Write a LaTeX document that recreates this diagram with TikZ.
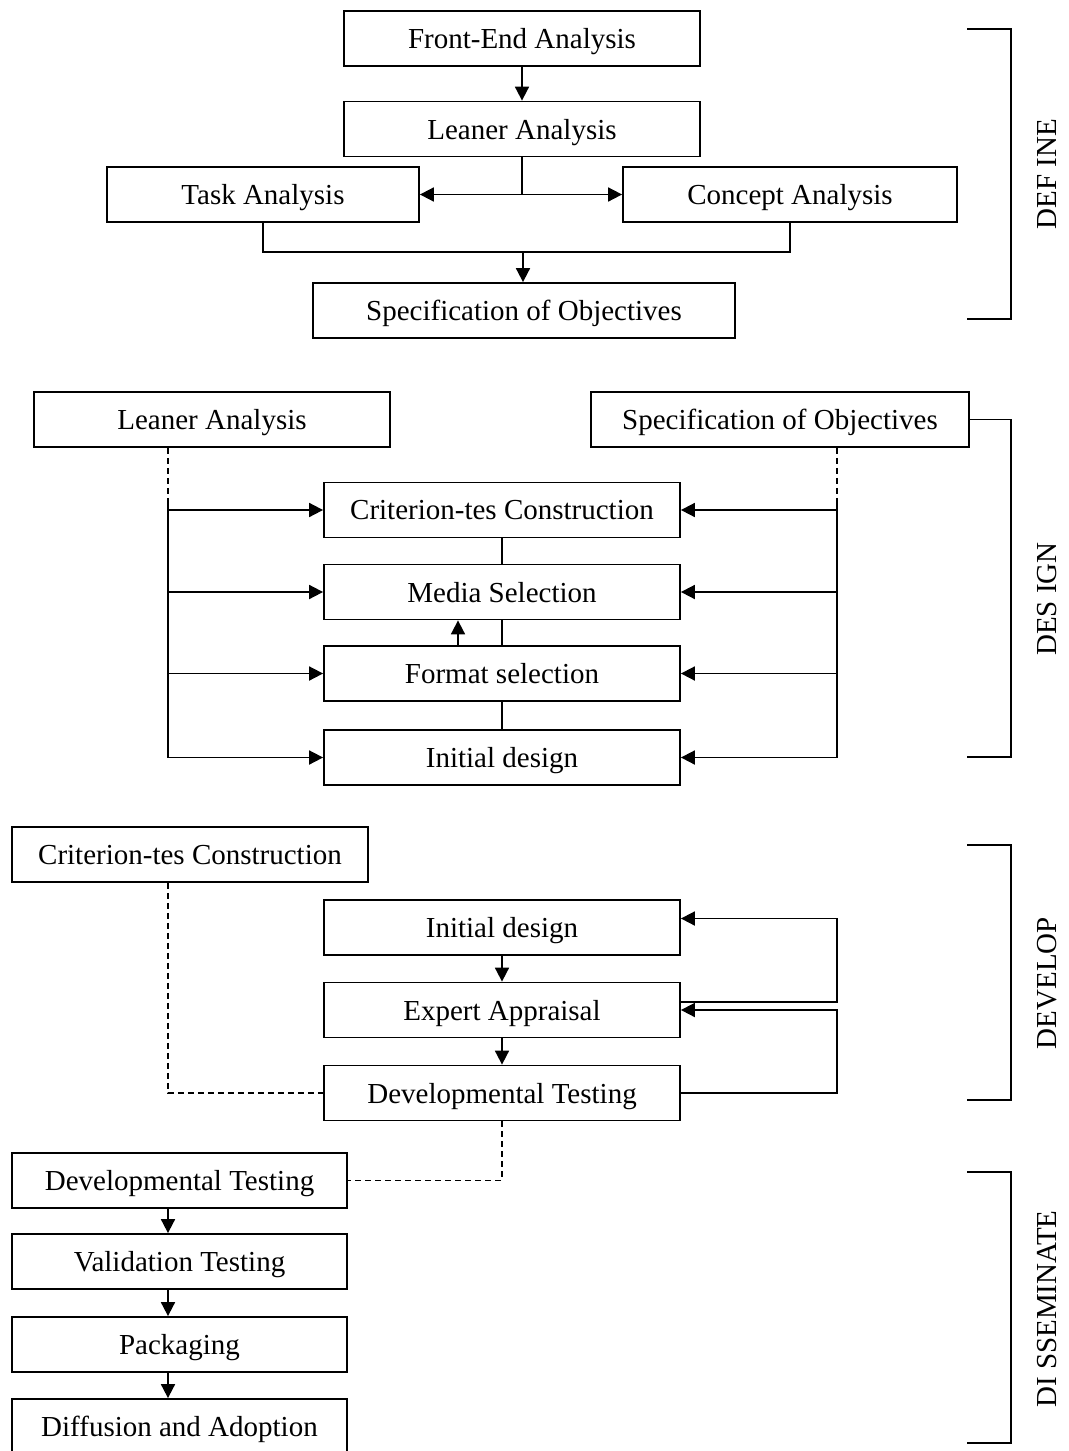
\documentclass[tikz,border=0pt]{standalone}
\usepackage{fontspec}
\setmainfont{Liberation Serif}
\usepackage{tikz}
\usetikzlibrary{positioning, calc, arrows.meta}

\begin{document}
\begin{tikzpicture}[>={Triangle[length=7pt,width=7pt]}, x=0.5pt, y=-0.5pt, line width=0.9pt,
    box/.style={draw, rectangle, inner sep=0pt, minimum height=27.5pt, text depth=0pt, font=\fontsize{14.5}{17}\selectfont},
    phase/.style={rotate=90, inner sep=0pt, font=\fontsize{14.5}{17}\selectfont},
    dotline/.style={dash pattern=on 3pt off 2pt}] % Arrow tip style
    \useasboundingbox (0,0) rectangle (1069,1451);

    % Define stage
    \node[box, minimum width=178pt] (FEA) at (522,38.5) {Front-End Analysis};
    \node[box, minimum width=178pt] (LA1) at (522,129) {Leaner Analysis};
    \node[box, minimum width=156pt] (TA) at (263,194.5) {Task Analysis};
    \node[box, minimum width=167pt] (CA) at (790,194.5) {Concept Analysis};
    \node[box, minimum width=211pt] (SO1) at (524,310.5) {Specification of Objectives};

    \draw[->] (FEA) -- (LA1);
    \draw (LA1.south) -- (LA1.south |- TA.east) coordinate (J1);
    \draw[->] (J1) -- (TA.east);
    \draw[->] (J1) -- (CA.west);
    \coordinate (J2) at (523,252);
    \draw (TA.south) |- (J2) -| (CA.south);
    \draw[->] (J2) -- (J2 |- SO1.north);

    \draw (967,29) -- (1011,29) -- (1011,319) -- (967,319);
    \node[phase] (Define) at (1047,174) {DEF INE};

    % Design stage
    \node[box, minimum width=178pt] (LA2) at (212,419.5) {Leaner Analysis};
    \node[box, minimum width=189pt] (SO2) at (780,419.5) {Specification of Objectives};
    \node[box, minimum width=178pt] (CTC1) at (502,510) {Criterion-tes Construction};
    \node[box, minimum width=178pt] (MS) at (502,592) {Media Selection};
    \node[box, minimum width=178pt] (FS) at (502,673.5) {Format selection};
    \node[box, minimum width=178pt] (ID1) at (502,757.5) {Initial design};

    \coordinate (L1) at (168,500);
    \coordinate (R1) at (837,500);
    \draw[dotline] (L1 |- LA2.south) -- (L1);
    \draw[dotline] (R1 |- SO2.south) -- (R1);
    \draw (L1) -- (L1 |- ID1.west);
    \draw (R1) -- (R1 |- ID1.east);
    \draw[->] (L1 |- CTC1.west) -- (CTC1.west);
    \draw[->] (L1 |- MS.west) -- (MS.west);
    \draw[->] (L1 |- FS.west) -- (FS.west);
    \draw[->] (L1 |- ID1.west) -- (ID1.west);
    \draw[->] (R1 |- CTC1.east) -- (CTC1.east);
    \draw[->] (R1 |- MS.east) -- (MS.east);
    \draw[->] (R1 |- FS.east) -- (FS.east);
    \draw[->] (R1 |- ID1.east) -- (ID1.east);
    \draw (CTC1) -- (MS);
    \draw (MS) -- (FS);
    \draw (FS) -- (ID1);
    \draw[->] ([xshift=-22pt]FS.north) -- ([xshift=-22pt]MS.south);

    \draw (SO2.east) -- (1011,419.5) -- (1011,757) -- (967,757);
    \node[phase] (Design) at (1047,599) {DES IGN};

    % Develop stage
    \node[box, minimum width=178pt] (CTC2) at (190,854.5) {Criterion-tes Construction};
    \node[box, minimum width=178pt] (ID2) at (502,927.5) {Initial design};
    \node[box, minimum width=178pt] (EA) at (502,1010) {Expert Appraisal};
    \node[box, minimum width=178pt] (DT1) at (502,1093) {Developmental Testing};

    \draw[dotline] ([xshift=-11pt]CTC2.south) |- (DT1.west);
    \draw[->] (ID2) -- (EA);
    \draw[->] (EA) -- (DT1);
    \draw[->] ([yshift=4pt]EA.east) -- ++(156,0) |- ([yshift=4.5pt]ID2.east);
    \draw[->] (DT1.east) -- ++(156,0) |- (EA.east);

    \draw (967,845) -- (1011,845) -- (1011,1100) -- (967,1100);
    \node[phase] (Develop) at (1047,983) {DEVELOP};

    % Disseminate stage
    \node[box, minimum width=167.5pt] (DT2) at (179.5,1180.5) {Developmental Testing};
    \node[box, minimum width=167.5pt] (VT) at (179.5,1261.5) {Validation Testing};
    \node[box, minimum width=167.5pt] (PK) at (179.5,1344.5) {Packaging};
    \node[box, minimum width=167.5pt] (DA) at (179.5,1426.5) {Diffusion and Adoption};

    \draw[dotline] (DT1.south) |- (DT2.east);
    \draw[->] ([xshift=-5.75pt]DT2.south) -- ([xshift=-5.75pt]VT.north);
    \draw[->] ([xshift=-5.75pt]VT.south) -- ([xshift=-5.75pt]PK.north);
    \draw[->] ([xshift=-5.75pt]PK.south) -- ([xshift=-5.75pt]DA.north);

    \draw (967,1172) -- (1011,1172) -- (1011,1443) -- (967,1443);
    \node[phase] (Disseminate) at (1047,1309) {DI SSEMINATE};
\end{tikzpicture}
\end{document}
